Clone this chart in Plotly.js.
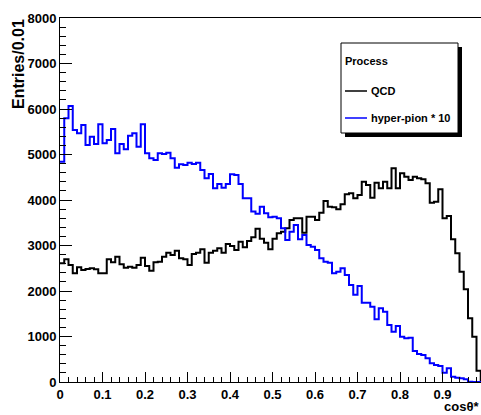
<!DOCTYPE html>
<html>
<head>
<meta charset="utf-8">
<script src="https://cdn.plot.ly/plotly-3.0.1.min.js"></script>
<style>
  html, body { margin: 0; padding: 0; overflow: hidden; background: #ffffff; }
  #chart { width: 495px; height: 415px; }
</style>
</head>
<body>
<div id="chart"></div>
<script>
// Binning: 100 bins of width 0.01 over cos(theta*) in [0, 1]
const binLow = 0;
const binHigh = 1;
const nBins = 100;

// QCD entries per bin
const qcdCounts = [
  2608, 2696, 2571, 2388, 2520, 2462, 2484, 2498, 2476, 2388,
  2388, 2696, 2630, 2755, 2586, 2513, 2535, 2513, 2571, 2733,
  2549, 2447, 2630, 2645, 2755, 2842, 2791, 2886, 2718, 2696,
  2571, 2813, 2842, 2916, 2623, 2842, 2886, 2938, 2842, 3033,
  2989, 2901, 3084, 2960, 3100, 3180, 3370, 3150, 3060, 2920,
  3150, 3267, 3304, 3378, 3560, 3597, 3597, 3282, 3634, 3634,
  3560, 3722, 3978, 3853, 3839, 3795, 3905, 4125, 4147, 4037,
  4110, 4403, 4330, 4051, 4381, 4256, 4403, 4256, 4696, 4256,
  4586, 4513, 4440, 4513, 4476, 4454, 4366, 3941, 3963, 4234,
  3597, 3648, 3136, 2828, 2425, 2037, 1399, 996, 249, 0
];

// hyper-pion entries per bin (scaled * 10)
const hyperPionCounts = [
  4842, 5795, 6066, 5538, 5465, 5648, 5209, 5392, 5231, 5663,
  5245, 5319, 5560, 5026, 5231, 5114, 5414, 5465, 5172, 5663,
  5026, 4916, 4879, 5026, 5011, 5040, 4916, 4711, 4784, 4769,
  4820, 4791, 4820, 4659, 4476, 4571, 4256, 4352, 4271, 4352,
  4564, 4549, 4352, 4037, 4037, 3750, 3700, 3853, 3707, 3620,
  3634, 3597, 3378, 3121, 3304, 3451, 3136, 3231, 3011, 2974,
  2901, 2718, 2645, 2623, 2388, 2425, 2498, 2352, 2132, 1920,
  2110, 1744, 1744, 1656, 1377, 1619, 1546, 1253, 1106, 1231,
  996, 960, 974, 681, 615, 593, 520, 410, 374, 352,
  205, 300, 117, 95, 81, 59, 7, 0, 0, 0
];

// x tick labels shown on the axis (the "1" label falls outside the picture)
const xTickVals = [0, 0.1, 0.2, 0.3, 0.4, 0.5, 0.6, 0.7, 0.8, 0.9];
const xTickText = ["0", "0.1", "0.2", "0.3", "0.4", "0.5", "0.6", "0.7", "0.8", "0.9"];

const seriesNames = ["QCD", "hyper-pion * 10"];
const seriesColors = ["#000000", "#0000ff"];
const legendTitle = "Process";
const xTitle = "cos\u03b8*";
const yTitle = "Entries/0.01";

function stepXY(vals) {
  const w = (binHigh - binLow) / nBins;
  const x = vals.map((_, i) => binLow + i * w);
  x.push(binHigh);
  const y = vals.slice();
  y.push(vals[vals.length - 1]);
  return { x, y };
}

const s0 = stepXY(qcdCounts);
const s1 = stepXY(hyperPionCounts);

const traces = [
  { x: s0.x, y: s0.y, type: "scatter", mode: "lines", name: seriesNames[0],
    line: { shape: "hv", color: seriesColors[0], width: 2 }, hoverinfo: "skip" },
  { x: s1.x, y: s1.y, type: "scatter", mode: "lines", name: seriesNames[1],
    line: { shape: "hv", color: seriesColors[1], width: 2 }, hoverinfo: "skip" }
];

// geometry helpers for legend decoration (paper coordinates)
const L = 60, T = 18, PW = 425, PH = 364;
const px = v => (v - L) / PW;
const py = v => (T + PH - v) / PH;

const fontBold = "Liberation Sans, Arial, sans-serif";

const layout = {
  width: 495, height: 415,
  margin: { l: L, r: 10, t: T, b: 33, pad: 0 },
  paper_bgcolor: "#ffffff",
  plot_bgcolor: "#ffffff",
  showlegend: false,
  font: { family: fontBold, color: "#000000" },
  xaxis: {
    range: [binLow, binHigh],
    tickmode: "array", tickvals: xTickVals, ticktext: xTickText,
    ticks: "inside", ticklen: 10, tickwidth: 1, tickcolor: "#000",
    minor: { ticks: "inside", ticklen: 5, dtick: 0.02, tick0: 0, tickcolor: "#000", tickwidth: 1 },
    showline: true, linecolor: "#000", linewidth: 1, mirror: true,
    showgrid: false, zeroline: false,
    tickfont: { family: fontBold, size: 13, weight: "bold", color: "#000" }
  },
  yaxis: {
    range: [0, 8000],
    dtick: 1000, tick0: 0,
    ticks: "inside", ticklen: 12, tickwidth: 1, tickcolor: "#000",
    minor: { ticks: "inside", ticklen: 6, dtick: 200, tickcolor: "#000", tickwidth: 1 },
    showline: true, linecolor: "#000", linewidth: 1, mirror: true,
    showgrid: false, zeroline: false,
    tickfont: { family: fontBold, size: 13, weight: "bold", color: "#000" }
  },
  shapes: [
    { type: "rect", xref: "paper", yref: "paper",
      x0: px(345), x1: px(462), y0: py(137), y1: py(47),
      fillcolor: "#000", line: { width: 0 }, layer: "above" },
    { type: "rect", xref: "paper", yref: "paper",
      x0: px(341), x1: px(458), y0: py(133), y1: py(43),
      fillcolor: "#fff", line: { color: "#000", width: 1 }, layer: "above" },
    { type: "line", xref: "paper", yref: "paper",
      x0: px(345), x1: px(367), y0: py(91), y1: py(91),
      line: { color: seriesColors[0], width: 1.5 }, layer: "above" },
    { type: "line", xref: "paper", yref: "paper",
      x0: px(345), x1: px(367), y0: py(118), y1: py(118),
      line: { color: seriesColors[1], width: 1.5 }, layer: "above" }
  ],
  annotations: [
    { text: legendTitle, xref: "paper", yref: "paper", x: px(343), y: py(61),
      xanchor: "left", yanchor: "middle", showarrow: false,
      font: { family: fontBold, size: 11, weight: "bold", color: "#000" } },
    { text: seriesNames[0], xref: "paper", yref: "paper", x: px(369), y: py(91),
      xanchor: "left", yanchor: "middle", showarrow: false,
      font: { family: fontBold, size: 11, weight: "bold", color: "#000" } },
    { text: seriesNames[1], xref: "paper", yref: "paper", x: px(369), y: py(118),
      xanchor: "left", yanchor: "middle", showarrow: false,
      font: { family: fontBold, size: 11, weight: "bold", color: "#000" } },
    { text: yTitle, xref: "paper", yref: "paper", x: px(18), y: py(17),
      xanchor: "center", yanchor: "top", textangle: -90, showarrow: false,
      font: { family: fontBold, size: 16, weight: "bold", color: "#000" } },
    { text: xTitle, xref: "paper", yref: "paper", x: px(481), y: py(406),
      xanchor: "right", yanchor: "middle", showarrow: false,
      font: { family: fontBold, size: 13, weight: "bold", color: "#000" } }
  ]
};

Plotly.newPlot("chart", traces, layout, { displayModeBar: false, staticPlot: true });
</script>
</body>
</html>
